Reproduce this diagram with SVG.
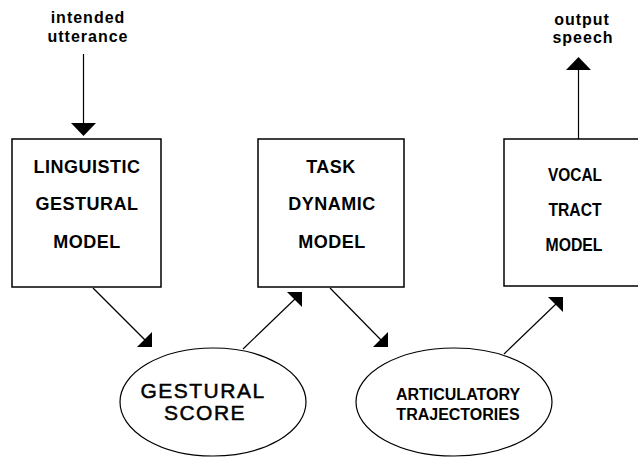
<svg xmlns="http://www.w3.org/2000/svg" width="638" height="457" viewBox="0 0 638 457">
<style>
  .box { fill: #fff; stroke: #000; stroke-width: 1.5; }
  .ell { fill: #fff; stroke: #000; stroke-width: 1.2; }
  .ln { stroke: #000; stroke-width: 1.2; fill: none; }
  .head { fill: #000; stroke: none; }
  text { font-family: "Liberation Sans", Arial, sans-serif; fill: #000; text-anchor: middle; }
  .lbl { font-size: 18px; font-weight: bold; letter-spacing: 0.5px; }
  .lbl3 { font-size: 18px; font-weight: bold; }
  .io { font-size: 16px; font-weight: bold; letter-spacing: 1px; }
  .big { font-size: 21px; letter-spacing: 1.5px; stroke: #000; stroke-width: 0.5px; }
  .art { font-size: 16px; font-weight: bold; }
</style>
<rect width="638" height="457" fill="#fff"/>
<g id="connectors">
  <line class="ln" x1="83.5" y1="54" x2="83.5" y2="124"/>
  <polygon class="head" points="71,123 96,123 83.5,136"/>
  <line class="ln" x1="578.5" y1="139" x2="578.5" y2="69"/>
  <polygon class="head" points="566,70 591,70 578.5,57"/>
  <line class="ln" x1="93" y1="288" x2="146" y2="341"/>
  <polygon class="head" points="152,332 152,347 137,347"/>
  <line class="ln" x1="243" y1="349" x2="296" y2="298"/>
  <polygon class="head" points="287,292 302,292 302,307"/>
  <line class="ln" x1="330" y1="288" x2="382" y2="341"/>
  <polygon class="head" points="388,332 388,347 373,347"/>
  <line class="ln" x1="504" y1="354" x2="557" y2="303"/>
  <polygon class="head" points="548,297 563,297 563,312"/>
</g>
<g id="input">
  <text class="io" x="88" y="23">intended</text>
  <text class="io" x="88" y="42">utterance</text>
</g>
<g id="output">
  <text class="io" x="582" y="25">output</text>
  <text class="io" x="583" y="43">speech</text>
</g>
<g id="linguistic-gestural-model">
  <rect class="box" x="12" y="139" width="149" height="148"/>
  <text class="lbl" x="87" y="173">LINGUISTIC</text>
  <text class="lbl" x="87" y="210">GESTURAL</text>
  <text class="lbl" x="87" y="248">MODEL</text>
</g>
<g id="task-dynamic-model">
  <rect class="box" x="258" y="139" width="146" height="148"/>
  <text class="lbl" x="331" y="173">TASK</text>
  <text class="lbl" x="332" y="210">DYNAMIC</text>
  <text class="lbl" x="332" y="248">MODEL</text>
</g>
<g id="vocal-tract-model">
  <rect class="box" x="504" y="139" width="150" height="147"/>
  <text class="lbl3" x="575" y="181" textLength="54" lengthAdjust="spacingAndGlyphs">VOCAL</text>
  <text class="lbl3" x="575" y="216" textLength="53" lengthAdjust="spacingAndGlyphs">TRACT</text>
  <text class="lbl3" x="574" y="251" textLength="57" lengthAdjust="spacingAndGlyphs">MODEL</text>
</g>
<g id="gestural-score">
  <ellipse class="ell" cx="213" cy="402" rx="93" ry="54"/>
  <text class="big" x="203" y="398">GESTURAL</text>
  <text class="big" x="205" y="420">SCORE</text>
</g>
<g id="articulatory-trajectories">
  <ellipse class="ell" cx="454" cy="402" rx="98" ry="54"/>
  <text class="art" x="458" y="400">ARTICULATORY</text>
  <text class="art" x="458" y="420">TRAJECTORIES</text>
</g>
</svg>
